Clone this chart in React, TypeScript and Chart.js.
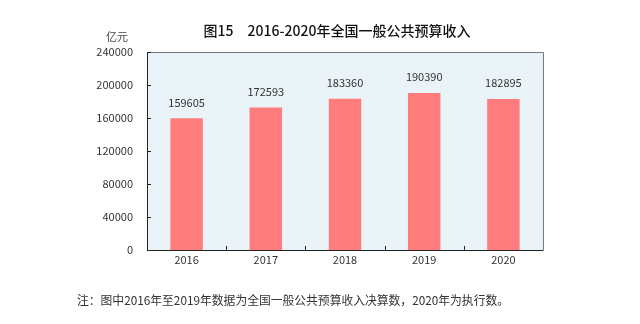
import React, { useEffect, useRef } from "react";
import { Chart, registerables } from "chart.js";

Chart.register(...registerables);

const categories = ["2016", "2017", "2018", "2019", "2020"];
const revenue = [159605, 172593, 183360, 190390, 182895];
const yTicks = [0, 40000, 80000, 120000, 160000, 200000, 240000];
const titleText = "图15　2016-2020年全国一般公共预算收入";
const unitText = "亿元";
const noteText = "注：图中2016年至2019年数据为全国一般公共预算收入决算数，2020年为执行数。";

const FONT = '"Noto Sans CJK SC", "DejaVu Sans", sans-serif';

export default function App() {
  const ref = useRef<HTMLCanvasElement>(null);
  useEffect(() => {
    document.body.style.margin = "0";
    const canvas = ref.current!;
    const decor = {
      id: "decor",
      beforeDraw(chart: any) {
        const { ctx, chartArea: a } = chart;
        ctx.save();
        ctx.fillStyle = "#ffffff";
        ctx.fillRect(0, 0, chart.width, chart.height);
        ctx.fillStyle = "#EAF3F7";
        ctx.fillRect(a.left, a.top, a.right - a.left, a.bottom - a.top);
        ctx.restore();
      },
      afterDraw(chart: any) {
        const { ctx, chartArea: a } = chart;
        const x = chart.scales.x;
        const y = chart.scales.y;
        ctx.save();
        // frame
        ctx.strokeStyle = "#7a7a7a";
        ctx.lineWidth = 1;
        ctx.beginPath();
        ctx.moveTo(a.left, a.top + 0.5);
        ctx.lineTo(a.right + 0.5, a.top + 0.5);
        ctx.lineTo(a.right + 0.5, a.bottom);
        ctx.stroke();
        // axes
        ctx.strokeStyle = "#222";
        ctx.beginPath();
        ctx.moveTo(a.left + 0.5, a.top);
        ctx.lineTo(a.left + 0.5, a.bottom + 0.5);
        ctx.lineTo(a.right + 0.5, a.bottom + 0.5);
        ctx.stroke();
        // inward ticks
        ctx.beginPath();
        yTicks.forEach((t) => {
          const py = Math.round(y.getPixelForValue(t)) + 0.5;
          ctx.moveTo(a.left, py);
          ctx.lineTo(a.left + 4, py);
        });
        for (let i = 1; i < categories.length; i++) {
          const px = Math.round((x.getPixelForValue(i - 1) + x.getPixelForValue(i)) / 2) + 0.5;
          ctx.moveTo(px, a.bottom);
          ctx.lineTo(px, a.bottom - 4);
        }
        ctx.stroke();
        // value labels
        ctx.fillStyle = "#333";
        ctx.font = `11px ${FONT}`;
        ctx.textAlign = "center";
        ctx.textBaseline = "middle";
        revenue.forEach((v, i) => {
          ctx.fillText(String(v), x.getPixelForValue(i), y.getPixelForValue(v) - 16);
        });
        // title
        ctx.fillStyle = "#111";
        ctx.font = `500 14px ${FONT}`;
        ctx.fillText(titleText, 337, 31);
        // unit
        ctx.fillStyle = "#444";
        ctx.font = `11px ${FONT}`;
        ctx.fillText(unitText, 117, 37);
        // note
        ctx.fillStyle = "#333";
        ctx.font = `12px ${FONT}`;
        ctx.textAlign = "left";
        ctx.fillText(noteText, 77, 300, 432);
        ctx.restore();
      },
    };
    const chart = new Chart(canvas, {
      type: "bar",
      data: {
        labels: categories,
        datasets: [
          {
            data: revenue,
            backgroundColor: "#FF7C7C",
            barPercentage: 0.41,
            categoryPercentage: 1,
          },
        ],
      },
      options: {
        responsive: false,
        animation: false,
        layout: { padding: { left: 0, right: 97, top: 52, bottom: 44 } },
        plugins: { legend: { display: false }, tooltip: { enabled: false } },
        scales: {
          x: {
            offset: true,
            grid: { display: false, drawTicks: false },
            border: { display: false },
            ticks: { color: "#333", font: { size: 11, family: FONT }, padding: 3 },
            afterFit: (s: any) => {
              s.height = 30;
            },
          },
          y: {
            min: 0,
            max: 240000,
            grid: { display: false, drawTicks: false },
            border: { display: false },
            afterBuildTicks: (s: any) => {
              s.ticks = yTicks.map((v) => ({ value: v }));
            },
            ticks: {
              color: "#333",
              font: { size: 11, family: FONT },
              padding: 14,
              callback: (v: any) => String(v),
            },
            afterFit: (s: any) => {
              s.width = 147;
            },
          },
        },
      },
      plugins: [decor],
    });
    return () => chart.destroy();
  }, []);
  return (
    <div style={{ position: "absolute", left: 0, top: 0, width: 640, height: 324 }}>
      <canvas ref={ref} width={640} height={324} />
    </div>
  );
}
